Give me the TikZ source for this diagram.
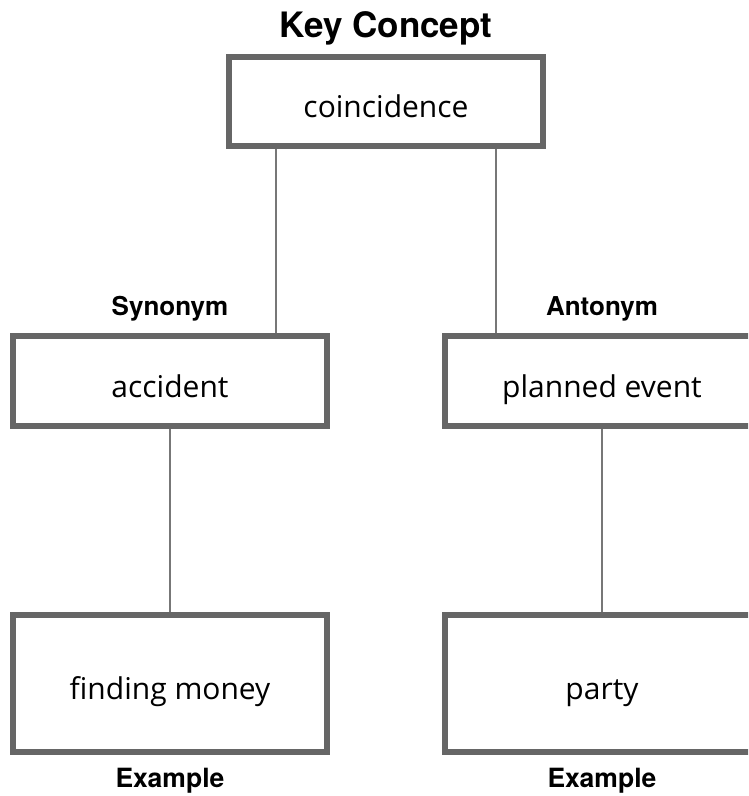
\documentclass[tikz,border=0pt]{standalone}
\usepackage{fontspec}
\setmainfont{Open Sans}
\newfontfamily\headfont{TeX Gyre Heros}
\usepackage{tikz}

\tikzset{
    wordbox/.style={rectangle, draw=boxgray, line width=6pt, fill=white, minimum width=314pt, inner sep=0pt, text height=32pt, text depth=0pt, font=\fontsize{30}{34}\selectfont},
    tag/.style={font=\headfont\bfseries\fontsize{26}{29}\selectfont},
    link/.style={draw=linkgray, line width=2pt}
}
\definecolor{boxgray}{HTML}{666666}
\definecolor{linkgray}{HTML}{777777}

\begin{document}
\begin{tikzpicture}[x=1pt,y=-1pt]
        \useasboundingbox (0,0) rectangle (748,796);
        \clip (0,0) rectangle (748,796);

        \node[tag, font=\headfont\bfseries\fontsize{35}{39}\selectfont] (title) at (386, 28) {Key Concept};
        \node[wordbox, minimum height=89pt] (key) at (386, 101.5) {coincidence};

        \node[tag] (syntag) at (170, 309) {Synonym};
        \node[tag] (anttag) at (602, 309) {Antonym};
        \node[wordbox, minimum height=90pt] (syn) at (170, 381) {accident};
        \node[wordbox, minimum height=90pt] (ant) at (602, 381) {planned event};

        \node[wordbox, minimum height=137pt] (synex) at (170, 683.5) {finding money};
        \node[wordbox, minimum height=137pt] (antex) at (602, 683.5) {party};
        \node[tag, font=\headfont\bfseries\fontsize{26.5}{29}\selectfont] (synextag) at (170, 781) {Example};
        \node[tag, font=\headfont\bfseries\fontsize{26.5}{29}\selectfont] (antextag) at (602, 781) {Example};

        \draw[link] ([xshift=-110pt]key.south) -- ([xshift=-110pt]key.south |- syn.north);
        \draw[link] ([xshift=110pt]key.south) -- ([xshift=110pt]key.south |- ant.north);
        \draw[link] (syn) -- (synex);
        \draw[link] (ant) -- (antex);

    \end{tikzpicture}
\end{document}
